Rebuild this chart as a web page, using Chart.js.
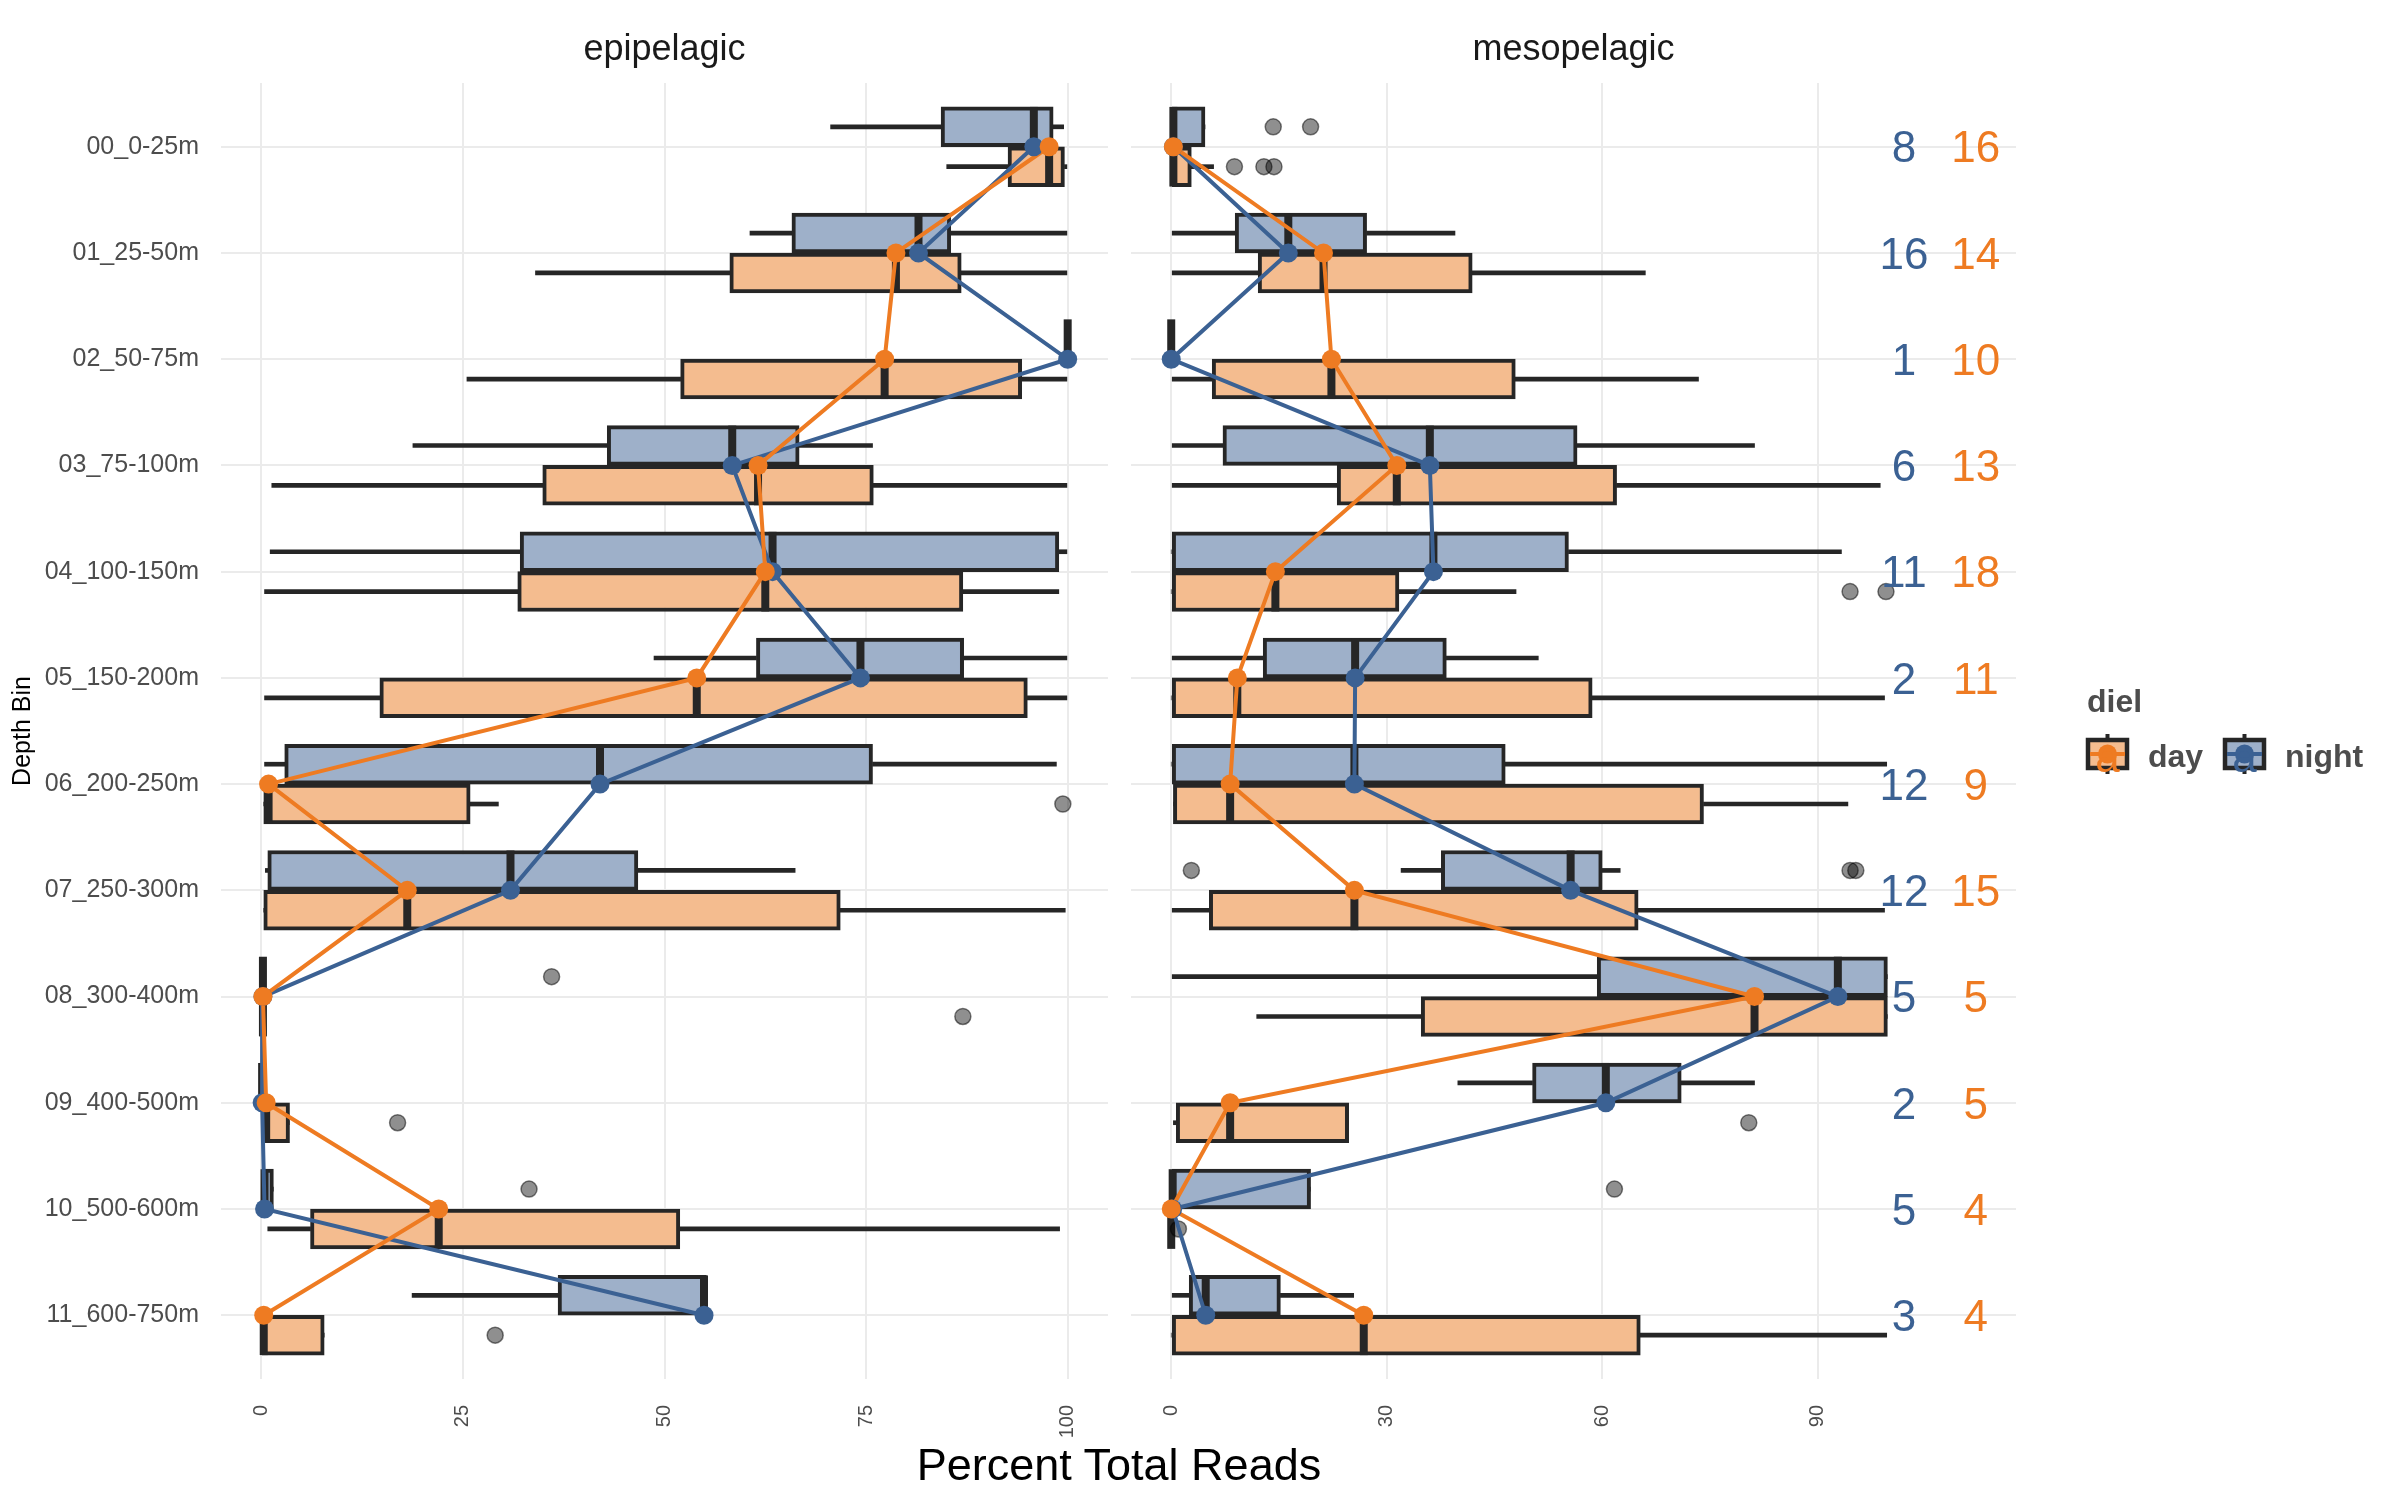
<!DOCTYPE html>
<html>
<head>
<meta charset="utf-8">
<title>Percent Total Reads by Depth Bin</title>
<script src="https://cdn.jsdelivr.net/npm/chart.js@4.4.1/dist/chart.umd.min.js"></script>
<style>
  html, body { margin: 0; padding: 0; background: #ffffff; }
  #wrap { position: relative; width: 2400px; height: 1500px; overflow: hidden; background: #ffffff;
          font-family: "Liberation Sans", Arial, Helvetica, sans-serif; }
  #wrap canvas { position: absolute; }
  .txt { position: absolute; white-space: nowrap; }
  #xtitle { left: 222px; width: 1794px; top: 1437px; height: 56px; line-height: 56px; text-align: center;
            font-size: 45px; color: #000000; }
  .lg { font-weight: bold; font-size: 32px; line-height: 32px; color: #4D4D4D; }
</style>
</head>
<body>
<div id="wrap">
  <canvas id="epi" width="2400" height="1500" style="left:0;top:0"></canvas>
  <canvas id="meso" width="2400" height="1500" style="left:0;top:0"></canvas>
  <div id="xtitle" class="txt">Percent Total Reads</div>
  <div class="txt lg" style="left:2087px;top:685px">diel</div>
  <canvas id="keyDay" width="56" height="56" style="left:2080px;top:725px"></canvas>
  <div class="txt lg" style="left:2148px;top:740px">day</div>
  <canvas id="keyNight" width="56" height="56" style="left:2217px;top:725px"></canvas>
  <div class="txt lg" style="left:2285px;top:740px">night</div>
</div>
<script>
// ---------------- DATA ----------------
const depthBins = ['00_0-25m', '01_25-50m', '02_50-75m', '03_75-100m', '04_100-150m', '05_150-200m',
                   '06_200-250m', '07_250-300m', '08_300-400m', '09_400-500m', '10_500-600m', '11_600-750m'];

const epiTicks = [0, 25, 50, 75, 100];
const mesoTicks = [0, 30, 60, 90];

// epipelagic - night
const epiNightLow    = [70.6, 60.6, 100, 18.8,  1.1, 48.7,  0.4,  0.5, 0.2, 0.0, 0.3, 18.7];
const epiNightQ1     = [84.3, 65.8, 100, 42.9, 32.1, 61.4,  2.9,  0.8, 0.2, 0.0, 0.3, 36.8];
const epiNightMedian = [95.8, 81.5, 100, 58.4, 63.4, 74.3, 42.0, 30.9, 0.2, 0.1, 0.4, 54.9];
const epiNightQ3     = [98.2, 85.5, 100, 66.7, 98.9, 87.1, 75.8, 46.7, 0.2, 0.5, 1.5, 55.2];
const epiNightHigh   = [99.5, 99.9, 100, 75.8, 99.9, 99.9, 98.6, 66.2, 0.2, 0.5, 1.5, 55.2];
const epiNightOutliers = [[], [], [], [], [], [], [], [], [36.0], [], [33.2], []];

// epipelagic - day
const epiDayLow    = [85.0, 34.0, 25.5,  1.3,  0.4,  0.4,  0.3,  0.3, 0.2, 0.5,  0.8, 0.0];
const epiDayQ1     = [92.6, 58.1, 52.0, 34.9, 31.8, 14.7,  0.3,  0.3, 0.2, 0.5,  6.1, 0.0];
const epiDayMedian = [97.7, 78.7, 77.3, 61.6, 62.5, 54.0,  0.9, 18.1, 0.2, 0.6, 22.0, 0.3];
const epiDayQ3     = [99.6, 86.8, 94.3, 75.9, 87.0, 95.0, 25.9, 71.8, 0.2, 3.5, 51.9, 7.8];
const epiDayHigh   = [99.9, 99.9, 99.9, 99.9, 98.9, 99.9, 29.4, 99.7, 0.2, 3.5, 99.0, 7.8];
const epiDayOutliers = [[], [], [], [], [], [], [99.4], [], [87.0], [16.9], [], [29.0]];

// mesopelagic - night
const mesoNightLow    = [0.0,  0.0, 0, 0.0,  0.0,  0.0,  0.0, 32.0,  0.0, 39.9,  0.0,  0.0];
const mesoNightQ1     = [0.0,  8.9, 0, 7.2,  0.0, 12.8,  0.0, 37.6, 59.3, 50.3,  0.0,  2.5];
const mesoNightMedian = [0.3, 16.3, 0, 36.0, 36.5, 25.6, 25.5, 55.6, 92.8, 60.5,  0.2,  4.8];
const mesoNightQ3     = [4.7, 27.2, 0, 56.5, 55.3, 38.3, 46.5, 60.0, 99.7, 71.0, 19.4, 15.2];
const mesoNightHigh   = [4.7, 39.5, 0, 81.2, 93.3, 51.1, 99.6, 62.5, 99.7, 81.2, 19.4, 25.4];
const mesoNightOutliers = [[14.2, 19.4], [], [], [], [], [], [], [2.8, 94.5, 95.3], [], [], [61.7], []];

// mesopelagic - day
const mesoDayLow    = [0.0,  0.0,  0.0,  0.0,  0.0,  0.0,  0.3,  0.0, 11.9,  0.3, 0,  0.0];
const mesoDayQ1     = [0.0, 12.1,  5.7, 23.1,  0.0,  0.0,  0.3,  5.3, 34.8,  0.7, 0,  0.0];
const mesoDayMedian = [0.3, 21.2, 22.3, 31.4, 14.5,  9.2,  8.2, 25.5, 81.2,  8.2, 0, 26.8];
const mesoDayQ3     = [2.8, 41.9, 47.9, 62.0, 31.7, 58.6, 74.1, 65.0, 99.7, 24.7, 0, 65.3];
const mesoDayHigh   = [5.9, 66.0, 73.4, 98.7, 48.0, 99.3, 94.2, 99.3, 99.7, 24.7, 0, 99.6];
const mesoDayOutliers = [[8.8, 12.9, 14.3], [], [], [], [94.5, 99.5], [], [], [], [], [80.4], [1.0], []];

// sample counts
const nightCounts = [8, 16, 1, 6, 11, 2, 12, 12, 5, 2, 5, 3];
const dayCounts   = [16, 14, 10, 13, 18, 11, 9, 15, 5, 5, 4, 4];

// ---------------- STYLE / LAYOUT ----------------
const FONT = '"Liberation Sans", Arial, Helvetica, sans-serif';
const INK = '#262626';
const NIGHT_FILL = '#9EB0C9', DAY_FILL = '#F4BC8F';
const NIGHT_COL = '#3B6193', DAY_COL = '#EE7B22';
const GRID = '#EBEBEB';
const PLOT_TOP = 83, PLOT_BOTTOM = 1379;
const Y_MIN = -0.6, Y_MAX = 11.6;
const UNIT_PX = (PLOT_BOTTOM - PLOT_TOP) / (Y_MAX - Y_MIN);
const DODGE = 0.1875;
const BOX_PX = 0.375 * UNIT_PX;
const NIGHT_LABEL_X = 102, DAY_LABEL_X = 112;

function groupDatasets(g) {
  const lowW = g.q1.map((v, i) => ({ y: i + g.off, x: [g.low[i], v] }));
  const highW = g.q3.map((v, i) => ({ y: i + g.off, x: [v, g.high[i]] }));
  const box = g.q1.map((v, i) => ({ y: i + g.off, x: [v, g.q3[i]] }));
  const med = g.med.map((v, i) => ({ x: v, y: i + g.off }));
  const outl = g.out.flatMap((arr, i) => arr.map(v => ({ x: v, y: i + g.off })));
  const whisker = { type: 'bar', indexAxis: 'y', grouped: false, barThickness: 4,
                    backgroundColor: INK, borderWidth: 0, order: 30 };
  return [
    Object.assign({ label: g.name + ' low whisker', data: lowW }, whisker),
    Object.assign({ label: g.name + ' high whisker', data: highW }, whisker),
    { type: 'bar', label: g.name + ' box', indexAxis: 'y', grouped: false, data: box,
      barThickness: BOX_PX, backgroundColor: g.fill, borderColor: INK, borderWidth: 4,
      borderSkipped: false, order: 28 },
    { type: 'scatter', label: g.name + ' median', data: med, pointStyle: 'line', pointRotation: 90,
      pointRadius: BOX_PX / 2, pointBorderWidth: 8, pointBorderColor: INK, pointHoverRadius: 0, order: 26 },
    { type: 'scatter', label: g.name + ' outliers', data: outl, pointRadius: 8,
      pointBackgroundColor: 'rgba(0,0,0,0.44)', pointBorderColor: 'rgba(0,0,0,0.5)', pointBorderWidth: 1.5,
      order: 24 }
  ];
}

function panelDatasets(night, day) {
  const ds = [];
  ds.push(...groupDatasets(Object.assign({ name: 'night', off: -DODGE, fill: NIGHT_FILL }, night)));
  ds.push(...groupDatasets(Object.assign({ name: 'day', off: DODGE, fill: DAY_FILL }, day)));
  ds.push({ type: 'scatter', label: 'night line', showLine: true, data: night.med.map((v, i) => ({ x: v, y: i })),
            borderColor: NIGHT_COL, borderWidth: 4, pointRadius: 0, order: 12 });
  ds.push({ type: 'scatter', label: 'day line', showLine: true, data: day.med.map((v, i) => ({ x: v, y: i })),
            borderColor: DAY_COL, borderWidth: 4, pointRadius: 0, order: 11 });
  ds.push({ type: 'scatter', label: 'night points', data: night.med.map((v, i) => ({ x: v, y: i })),
            pointRadius: 9.5, pointBackgroundColor: NIGHT_COL, pointBorderWidth: 0, order: 10 });
  ds.push({ type: 'scatter', label: 'day points', data: day.med.map((v, i) => ({ x: v, y: i })),
            pointRadius: 9.5, pointBackgroundColor: DAY_COL, pointBorderWidth: 0, order: 9 });
  return ds;
}

function panelOptions(p) {
  return {
    responsive: false, animation: false, devicePixelRatio: 1,
    events: [],
    layout: { padding: { left: 0, right: p.rightPad, top: 0, bottom: 0 } },
    plugins: {
      legend: { display: false },
      tooltip: { enabled: false },
      title: { display: true, text: p.title, fullSize: false, color: '#1A1A1A',
               font: { family: FONT, size: 36, weight: 'normal', lineHeight: 1.2 },
               padding: { top: 28, bottom: PLOT_TOP - 28 - 43.2 } }
    },
    scales: {
      x: { type: 'linear', position: 'bottom', min: p.xMin, max: p.xMax, offset: false,
           grid: { color: GRID, lineWidth: 2, drawTicks: false, offset: false },
           border: { display: false },
           afterBuildTicks: s => { s.ticks = p.xTicks.map(v => ({ value: v })); },
           afterFit: s => { s.height = 1500 - PLOT_BOTTOM; },
           ticks: { autoSkip: false, minRotation: 90, maxRotation: 90, padding: 26, color: '#4D4D4D',
                    font: { family: FONT, size: 20 }, callback: v => String(v) } },
      y: { type: 'linear', position: 'left', reverse: true, min: Y_MIN, max: Y_MAX, offset: false,
           grid: { color: GRID, lineWidth: 2, drawTicks: false, offset: false },
           border: { display: false },
           afterBuildTicks: s => { s.ticks = depthBins.map((_, i) => ({ value: i })); },
           afterFit: s => { s.width = p.leftWidth; },
           ticks: { display: p.showY, autoSkip: false, padding: 22, color: '#4D4D4D',
                    font: { family: FONT, size: 25 }, callback: (v, i) => depthBins[i] },
           title: { display: p.showY, text: 'Depth Bin', color: '#000000',
                    font: { family: FONT, size: 25 }, padding: { top: 8, bottom: 0 } } }
    }
  };
}

const countLabels = {
  id: 'countLabels',
  afterDatasetsDraw(chart) {
    const { ctx, scales } = chart;
    const xs = scales.x, ys = scales.y;
    ctx.save();
    ctx.font = '44px ' + FONT;
    ctx.textAlign = 'center';
    ctx.textBaseline = 'alphabetic';
    nightCounts.forEach((n, i) => {
      const py = ys.getPixelForValue(i) + 0.358 * 44;
      ctx.fillStyle = NIGHT_COL;
      ctx.fillText(String(n), xs.getPixelForValue(NIGHT_LABEL_X), py);
      ctx.fillStyle = DAY_COL;
      ctx.fillText(String(dayCounts[i]), xs.getPixelForValue(DAY_LABEL_X), py);
    });
    ctx.restore();
  }
};

new Chart(document.getElementById('epi'), {
  type: 'scatter',
  data: { datasets: panelDatasets(
    { low: epiNightLow, q1: epiNightQ1, med: epiNightMedian, q3: epiNightQ3, high: epiNightHigh, out: epiNightOutliers },
    { low: epiDayLow, q1: epiDayQ1, med: epiDayMedian, q3: epiDayQ3, high: epiDayHigh, out: epiDayOutliers }) },
  options: panelOptions({ title: 'epipelagic', xMin: -5, xMax: 105, xTicks: epiTicks,
                          leftWidth: 221, rightPad: 2400 - 1108, showY: true })
});

new Chart(document.getElementById('meso'), {
  type: 'scatter',
  data: { datasets: panelDatasets(
    { low: mesoNightLow, q1: mesoNightQ1, med: mesoNightMedian, q3: mesoNightQ3, high: mesoNightHigh, out: mesoNightOutliers },
    { low: mesoDayLow, q1: mesoDayQ1, med: mesoDayMedian, q3: mesoDayQ3, high: mesoDayHigh, out: mesoDayOutliers }) },
  options: panelOptions({ title: 'mesopelagic', xMin: -5.6, xMax: 117.6, xTicks: mesoTicks,
                          leftWidth: 1131, rightPad: 2400 - 2016, showY: false }),
  plugins: [countLabels]
});

// legend keys
function drawKey(id, fill, col) {
  const c = document.getElementById(id).getContext('2d');
  c.strokeStyle = INK; c.lineWidth = 4;
  c.beginPath(); c.moveTo(27.5, 9); c.lineTo(27.5, 49); c.stroke();
  c.fillStyle = fill; c.fillRect(8, 15, 39, 28);
  c.lineWidth = 4.5; c.strokeRect(8, 15, 39, 28);
  c.strokeStyle = col; c.lineWidth = 4;
  c.beginPath(); c.moveTo(10, 29); c.lineTo(45, 29); c.stroke();
  c.fillStyle = col;
  c.beginPath(); c.arc(27.5, 29, 9.5, 0, 2 * Math.PI); c.fill();
  c.font = '44px ' + FONT; c.textAlign = 'center'; c.textBaseline = 'alphabetic';
  c.fillText('a', 27.5, 47);
}
drawKey('keyDay', DAY_FILL, DAY_COL);
drawKey('keyNight', NIGHT_FILL, NIGHT_COL);
</script>
</body>
</html>
